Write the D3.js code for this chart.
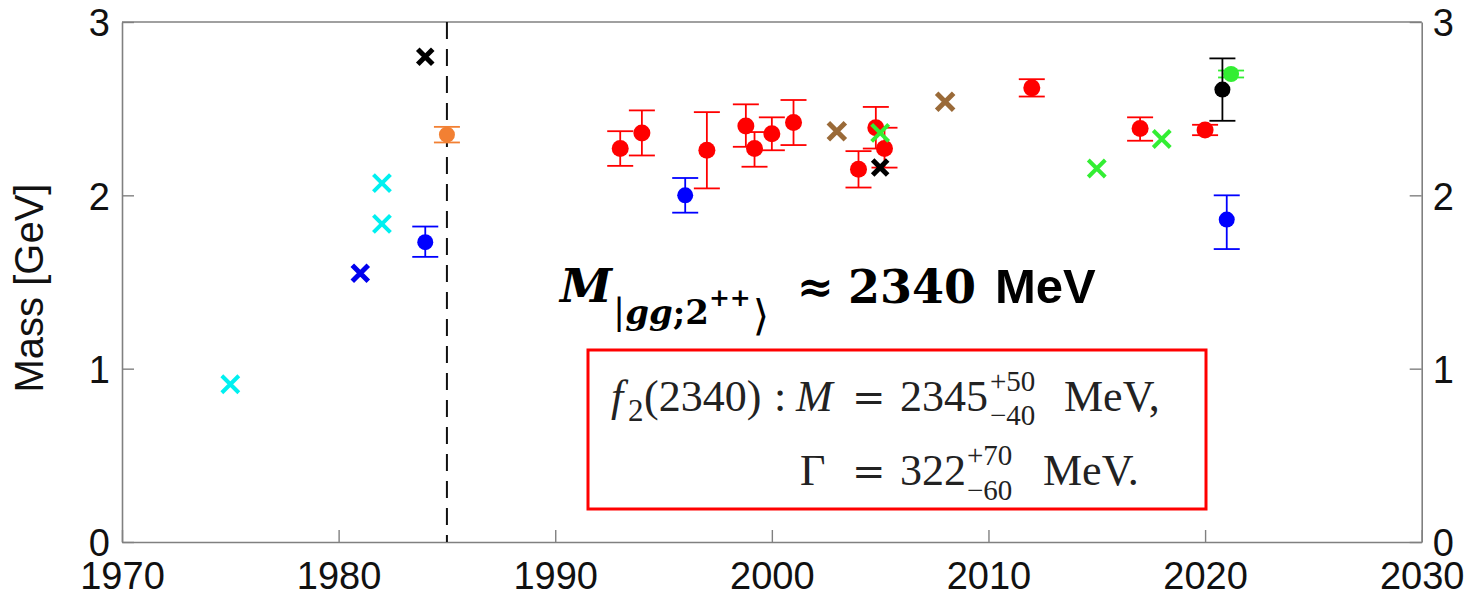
<!DOCTYPE html>
<html><head><meta charset="utf-8">
<script src="https://cdn.jsdelivr.net/npm/d3@7"></script>
<style>body{margin:0;background:#fff}svg{display:block}</style>
</head><body>
<svg id="chart" width="1470" height="596"></svg>
<script>
// ---------- data ----------
const xTicks = [1970, 1980, 1990, 2000, 2010, 2020, 2030];
const yTicks = [0, 1, 2, 3];
const yLabel = "Mass [GeV]";
const dividerYear = 1985;

// points with error bars
const redYears   = [1993, 1994, 1997, 1998.8, 1999.2, 2000, 2001, 2004, 2004.8, 2005.2, 2012, 2017, 2020];
const redMass    = [2.27, 2.36, 2.26, 2.40, 2.27, 2.355, 2.42, 2.15, 2.39, 2.27, 2.62, 2.385, 2.377];
const redErrUp   = [0.10, 0.13, 0.22, 0.125, 0.095, 0.095, 0.13, 0.105, 0.12, 0.12, 0.05, 0.065, 0.03];
const redErrDown = [0.10, 0.13, 0.22, 0.12, 0.105, 0.095, 0.13, 0.105, 0.12, 0.11, 0.05, 0.07, 0.03];

const blueYears   = [1984, 1996, 2021];
const blueMass    = [1.73, 2.00, 1.86];
const blueErrUp   = [0.09, 0.10, 0.14];
const blueErrDown = [0.085, 0.10, 0.17];

const orangeYears   = [1985];
const orangeMass    = [2.35];
const orangeErrUp   = [0.045];
const orangeErrDown = [0.045];

const greenPtYears   = [2021.2];
const greenPtMass    = [2.70];
const greenPtErrUp   = [0.02];
const greenPtErrDown = [0.02];

const blackPtYears   = [2020.8];
const blackPtMass    = [2.61];
const blackPtErrUp   = [0.18];
const blackPtErrDown = [0.18];

// cross markers (no error bars)
const cyanXYears  = [1975, 1982, 1982];
const cyanXMass   = [0.91, 2.07, 1.835];
const blueXYears  = [1981];
const blueXMass   = [1.55];
const blackXYears = [1984, 2005];
const blackXMass  = [2.80, 2.16];
const brownXYears = [2003, 2008];
const brownXMass  = [2.37, 2.54];
const greenXYears = [2005, 2015, 2018];
const greenXMass  = [2.36, 2.155, 2.325];

// ---------- layout ----------
const L = 122, R = 1421.7, T = 22, B = 542;
const svg = d3.select("#chart");
const x = d3.scaleLinear().domain([1970, 2030]).range([L, R]);
const y = d3.scaleLinear().domain([0, 3]).range([B, T]);
const axisColor = "#808080";
const tickFont = "'Liberation Sans', Arial, sans-serif";

// frame top line
svg.append("line").attr("x1", L).attr("x2", R).attr("y1", T).attr("y2", T)
  .attr("stroke", axisColor).attr("stroke-width", 1.6);

// bottom axis
const gx = svg.append("g").attr("transform", `translate(0,${B})`)
  .call(d3.axisBottom(x).tickValues(xTicks).tickFormat(d3.format("d")).tickSize(-12).tickSizeOuter(0));
gx.selectAll("text").attr("y", 47).attr("dy", 0);

// left axis
const gl = svg.append("g").attr("transform", `translate(${L},0)`)
  .call(d3.axisLeft(y).tickValues(yTicks).tickFormat(d3.format("d")).tickSize(-12).tickSizeOuter(0));
gl.selectAll("text").attr("x", -12).attr("dy", "0.36em");

// right axis
const gr = svg.append("g").attr("transform", `translate(${R},0)`)
  .call(d3.axisRight(y).tickValues(yTicks).tickFormat(d3.format("d")).tickSize(-12).tickSizeOuter(0));
gr.selectAll("text").attr("x", 11).attr("dy", "0.36em");

[gx, gl, gr].forEach(g => {
  g.select(".domain").attr("stroke", axisColor).attr("stroke-width", 1.6);
  g.selectAll(".tick line").attr("stroke", axisColor).attr("stroke-width", 1.4);
  g.selectAll("text").attr("font-family", tickFont).attr("font-size", 38).attr("fill", "#111");
});

// y label
svg.append("text").attr("transform", "translate(43,288) rotate(-90)")
  .attr("text-anchor", "middle").attr("font-family", tickFont).attr("font-size", 40)
  .attr("fill", "#111").text(yLabel);

// dashed divider
svg.append("line").attr("x1", x(dividerYear)).attr("x2", x(dividerYear))
  .attr("y1", y(3)).attr("y2", y(0)).attr("stroke", "#111").attr("stroke-width", 2)
  .attr("stroke-dasharray", "17,10");

// ---------- error-bar points ----------
function errSeries(years, mass, up, down, color, r) {
  const g = svg.append("g");
  const data = years.map((yr, i) => ({ yr, m: mass[i], u: up[i], d: down[i] }));
  const cap = 13;
  data.forEach(p => {
    const cx = x(p.yr);
    g.append("line").attr("x1", cx).attr("x2", cx).attr("y1", y(p.m + p.u)).attr("y2", y(p.m - p.d))
      .attr("stroke", color).attr("stroke-width", 1.8);
    g.append("line").attr("x1", cx - cap).attr("x2", cx + cap).attr("y1", y(p.m + p.u)).attr("y2", y(p.m + p.u))
      .attr("stroke", color).attr("stroke-width", 1.8);
    g.append("line").attr("x1", cx - cap).attr("x2", cx + cap).attr("y1", y(p.m - p.d)).attr("y2", y(p.m - p.d))
      .attr("stroke", color).attr("stroke-width", 1.8);
  });
  g.selectAll("circle").data(data).join("circle")
    .attr("cx", p => x(p.yr)).attr("cy", p => y(p.m)).attr("r", r).attr("fill", color);
}
errSeries(redYears, redMass, redErrUp, redErrDown, "#ff0000", 8.5);
errSeries(blueYears, blueMass, blueErrUp, blueErrDown, "#0000ff", 8);
errSeries(orangeYears, orangeMass, orangeErrUp, orangeErrDown, "#f28033", 8);
errSeries(greenPtYears, greenPtMass, greenPtErrUp, greenPtErrDown, "#33ee33", 8);
errSeries(blackPtYears, blackPtMass, blackPtErrUp, blackPtErrDown, "#000000", 8);

// ---------- crosses ----------
function crossSeries(years, mass, color, h, w) {
  const g = svg.append("g");
  years.forEach((yr, i) => {
    const cx = x(yr), cy = y(mass[i]);
    g.append("path").attr("d", `M${cx-h},${cy-h}L${cx+h},${cy+h}M${cx-h},${cy+h}L${cx+h},${cy-h}`)
      .attr("stroke", color).attr("stroke-width", w).attr("fill", "none");
  });
}
crossSeries(cyanXYears, cyanXMass, "#00f0f0", 8.5, 4);
crossSeries(blueXYears, blueXMass, "#0000ee", 8, 5);
crossSeries(brownXYears, brownXMass, "#9a6a38", 8.5, 5);
crossSeries(greenXYears, greenXMass, "#33ee33", 8.5, 4);
crossSeries(blackXYears, blackXMass, "#000000", 7.5, 5);

// ---------- annotation ----------
const ser = "'DejaVu Serif', serif";
const ann = svg.append("g").attr("fill", "#000");
ann.append("text").attr("x", 560).attr("y", 302).attr("font-family", ser).attr("font-weight", "bold")
  .attr("font-style", "italic").attr("font-size", 47).text("M");
const sub = ann.append("text").attr("x", 613).attr("y", 324).attr("font-family", ser).attr("font-weight", "bold").attr("font-size", 34);
sub.append("tspan").attr("font-weight", "normal").attr("font-size", 36).text("|");
sub.append("tspan").attr("font-style", "italic").text("gg");
sub.append("tspan").text(";2");
sub.append("tspan").attr("font-size", 25).attr("dy", -18).text("++");
sub.append("tspan").attr("font-weight", "normal").attr("font-size", 42).attr("dy", 24).attr("dx", 2).text("⟩");
ann.append("text").attr("x", 797).attr("y", 302).attr("font-family", ser).attr("font-weight", "bold")
  .attr("font-size", 44).text("≈");
ann.append("text").attr("x", 848).attr("y", 303).attr("font-family", ser).attr("font-weight", "bold")
  .attr("font-size", 46).text("2340");
ann.append("text").attr("x", 995).attr("y", 303).attr("font-family", "'Liberation Sans', Arial, sans-serif")
  .attr("font-weight", "bold").attr("font-size", 49).text("MeV");

// red box
svg.append("rect").attr("x", 588).attr("y", 350).attr("width", 618).attr("height", 159)
  .attr("fill", "none").attr("stroke", "#ff0000").attr("stroke-width", 3);

const tf = "'Liberation Serif', 'Times New Roman', serif";
const box = svg.append("g").attr("font-family", tf).attr("fill", "#222");
function t(xp, yp, s, size, italic, fam) {
  const e = box.append("text").attr("x", xp).attr("y", yp).attr("font-size", size)
    .attr("font-style", italic ? "italic" : "normal").text(s);
  if (fam) e.attr("font-family", fam);
}
const eqFont = "'DejaVu Serif', serif";
// line 1
t(611, 411, "f", 44, true);
t(628, 421, "2", 31, false);
t(644, 411, "(2340)", 44, false);
t(774, 411, ":", 44, false);
t(796, 411, "M", 44, true);
t(852, 411, "=", 40, false, eqFont);
t(900, 411, "2345", 44, false);
t(990, 391, "+50", 29, false);
t(990, 425, "−40", 29, false);
t(1064, 411, "MeV,", 44, false);
// line 2
t(800, 485, "Γ", 44, false);
t(852, 485, "=", 40, false, eqFont);
t(900, 485, "322", 44, false);
t(967, 465, "+70", 29, false);
t(967, 500, "−60", 29, false);
t(1043, 485, "MeV.", 44, false);
</script>
</body></html>
